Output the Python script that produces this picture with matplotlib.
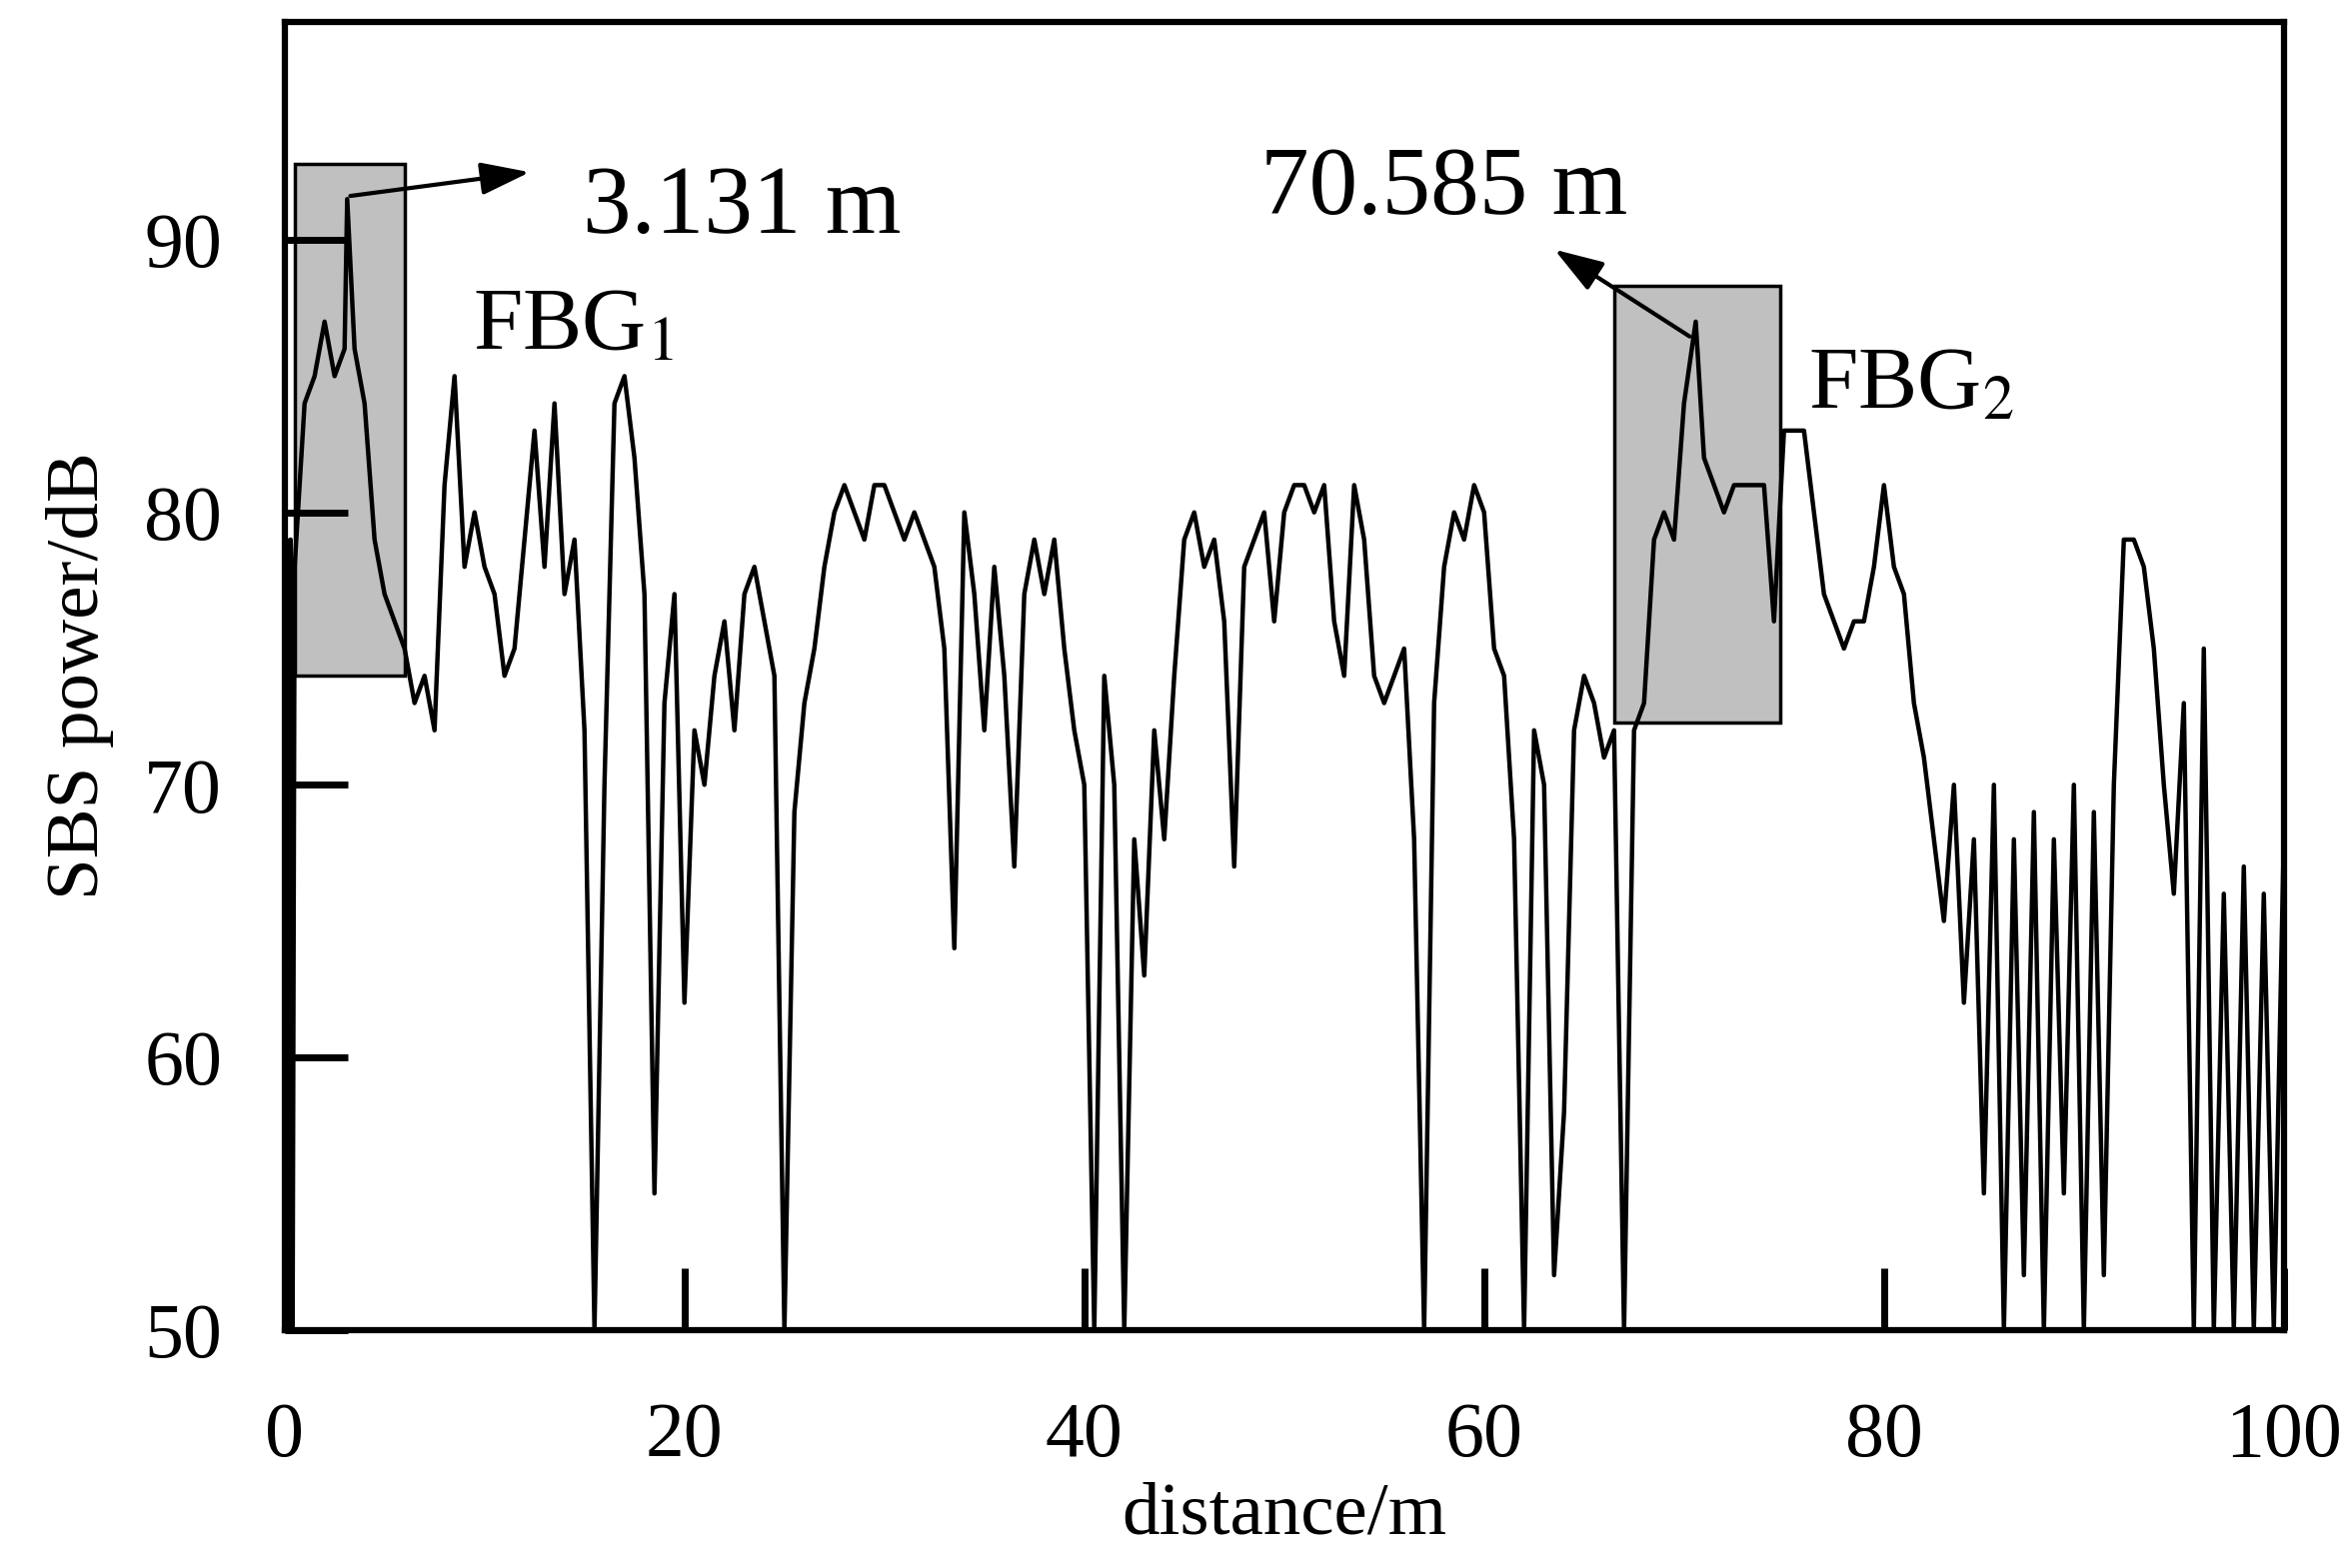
import matplotlib
matplotlib.use("Agg")
import matplotlib.pyplot as plt
import matplotlib.patches as mpatches

plt.rcParams['font.family'] = ['Liberation Serif', 'DejaVu Serif']
plt.rcParams['mathtext.fontset'] = 'stix'

# trace (distance m, SBS power dB)
distance = [0.0, 0.1, 0.2, 0.3, 0.4, 0.5, 1.0, 1.5, 2.0, 2.5, 3.0, 3.131, 3.5, 4.0, 4.5, 5.0, 5.5, 6.0, 6.5,
            7.0, 7.5, 8.0, 8.5, 9.0, 9.5, 10.0, 10.5, 11.0, 11.5, 12.0, 12.5, 13.0, 13.5, 14.0, 14.5,
            15.0, 15.5, 16.0, 16.5, 17.0, 17.5, 18.0, 18.5, 19.0, 19.5, 20.0, 20.5, 21.0, 21.5, 22.0,
            22.5, 23.0, 23.5, 24.0, 24.5, 25.0, 25.5, 26.0, 26.5, 27.0, 27.5, 28.0, 28.5, 29.0, 29.5,
            30.0, 30.5, 31.0, 31.5, 32.0, 32.5, 33.0, 33.5, 34.0, 34.5, 35.0, 35.5, 36.0, 36.5, 37.0,
            37.5, 38.0, 38.5, 39.0, 39.5, 40.0, 40.5, 41.0, 41.5, 42.0, 42.5, 43.0, 43.5, 44.0, 44.5,
            45.0, 45.5, 46.0, 46.5, 47.0, 47.5, 48.0, 48.5, 49.0, 49.5, 50.0, 50.5, 51.0, 51.5, 52.0,
            52.5, 53.0, 53.5, 54.0, 54.5, 55.0, 55.5, 56.0, 56.5, 57.0, 57.5, 58.0, 58.5, 59.0, 59.5,
            60.0, 60.5, 61.0, 61.5, 62.0, 62.5, 63.0, 63.5, 64.0, 64.5, 65.0, 65.5, 66.0, 66.5, 67.0,
            67.5, 68.0, 68.5, 69.0, 69.5, 70.0, 70.585, 71.0, 71.5, 72.0, 72.5, 73.0, 73.5, 74.0, 74.5,
            75.0, 75.5, 76.0, 76.5, 77.0, 77.5, 78.0, 78.5, 79.0, 79.5, 80.0, 80.5, 81.0, 81.5, 82.0,
            82.5, 83.0, 83.5, 84.0, 84.5, 85.0, 85.5, 86.0, 86.5, 87.0, 87.5, 88.0, 88.5, 89.0, 89.5,
            90.0, 90.5, 91.0, 91.5, 92.0, 92.5, 93.0, 93.5, 94.0, 94.5, 95.0, 95.5, 96.0, 96.5, 97.0,
            97.5, 98.0, 98.5, 99.0, 99.5, 100.0]
power = [50, 79, 50, 79, 50, 78, 84, 85, 87, 85, 86, 91.5, 86, 84, 79, 77, 76, 75, 73,
         74, 72, 81, 85, 78, 80, 78, 77, 74, 75, 79, 83, 78, 84, 77, 79,
         72, 50, 70, 84, 85, 82, 77, 55, 73, 77, 62, 72, 70, 74, 76,
         72, 77, 78, 76, 74, 50, 69, 73, 75, 78, 80, 81, 80, 79, 81,
         81, 80, 79, 80, 79, 78, 75, 64, 80, 77, 72, 78, 74, 67, 77,
         79, 77, 79, 75, 72, 70, 50, 74, 70, 50, 68, 63, 72, 68, 74,
         79, 80, 78, 79, 76, 67, 78, 79, 80, 76, 80, 81, 81, 80, 81,
         76, 74, 81, 79, 74, 73, 74, 75, 68, 50, 73, 78, 80, 79, 81,
         80, 75, 74, 68, 50, 72, 70, 52, 58, 72, 74, 73, 71, 72, 50,
         72, 73, 79, 80, 79, 84, 87, 82, 81, 80, 81, 81, 81, 81, 76,
         83, 83, 83, 80, 77, 76, 75, 76, 76, 78, 81, 78, 77, 73, 71,
         68, 65, 70, 62, 68, 55, 70, 50, 68, 52, 69, 50, 68, 55, 70,
         50, 69, 52, 70, 79, 79, 78, 75, 70, 66, 73, 50, 75, 50, 66,
         50, 67, 50, 66, 50, 68]

# shaded boxes: (x0, x1, y0, y1)
boxes = [(0.5, 6.0, 74.0, 92.8), (66.5, 74.8, 72.3, 88.3)]

fig = plt.figure(figsize=(23.53, 15.69), dpi=100)
ax = fig.add_axes([0.121, 0.152, 0.85, 0.834])

for x0, x1, y0, y1 in boxes:
    ax.add_patch(mpatches.Rectangle((x0, y0), x1 - x0, y1 - y0, facecolor='#c0c0c0',
                                    edgecolor='black', linewidth=2.5, zorder=1))
ax.plot(distance, power, color='black', linewidth=3.2, zorder=2)

ax.set_xlim(0, 100)
ax.set_ylim(50, 98)
ax.set_xticks([0, 20, 40, 60, 80, 100])
ax.set_yticks([50, 60, 70, 80, 90])
ax.tick_params(direction='in', length=45, width=5, labelsize=56)
ax.tick_params(axis='x', pad=52)
ax.tick_params(axis='y', pad=45)
for s in ax.spines.values():
    s.set_linewidth(4.5)
ax.set_xlabel('distance/m', fontsize=54, labelpad=6)
ax.set_ylabel('SBS power/dB', fontsize=54, labelpad=22)

arrow = dict(arrowstyle='-|>,head_length=3.0,head_width=1.0', color='black', lw=3)
ax.annotate('', xy=(12.4, 92.5), xytext=(3.15, 91.6), arrowprops=arrow, zorder=3)
ax.annotate('', xy=(63.4, 89.7), xytext=(70.4, 86.4), arrowprops=arrow, zorder=3)
ax.text(14.9, 91.1, '3.131 m', fontsize=70, va='center', ha='left')
ax.text(48.8, 91.8, '70.585 m', fontsize=70, va='center', ha='left')
ax.text(9.4, 86.8, r'FBG$_\mathrm{1}$', fontsize=64, va='center', ha='left')
ax.text(76.2, 84.6, r'FBG$_\mathrm{2}$', fontsize=64, va='center', ha='left')

fig.savefig('out.png', dpi=100)
